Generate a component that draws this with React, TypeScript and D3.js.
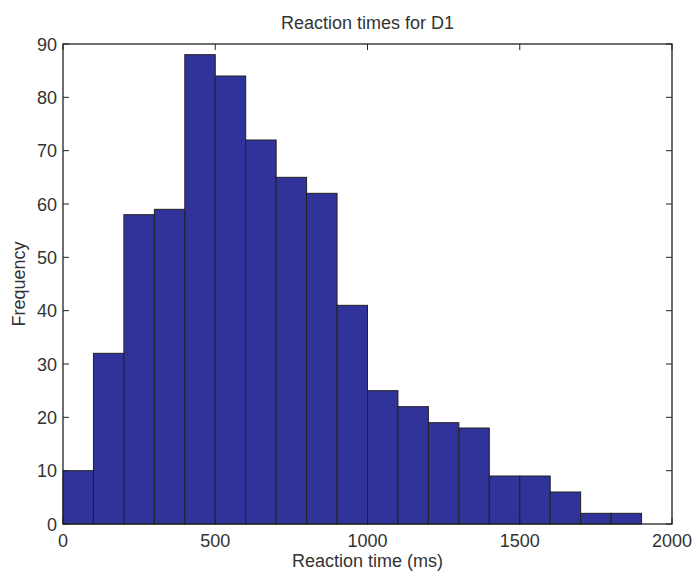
import React, { useEffect, useRef } from 'react'
import * as d3 from 'd3'

// bin edges (ms) and counts
const binStarts = [0, 100, 200, 300, 400, 500, 600, 700, 800, 900, 1000, 1100, 1200, 1300, 1400, 1500, 1600, 1700, 1800, 1900]
const counts = [10, 32, 58, 59, 88, 84, 72, 65, 62, 41, 25, 22, 19, 18, 9, 9, 6, 2, 2, 0]
const xTicks = [0, 500, 1000, 1500, 2000]
const yTicks = [0, 10, 20, 30, 40, 50, 60, 70, 80, 90]

const W = 693
const H = 572
const margin = { top: 44, right: 21, bottom: 48, left: 63 }
const font = '"Liberation Sans", Arial, sans-serif'

export default function App() {
  const ref = useRef<SVGSVGElement>(null)

  useEffect(() => {
    const svg = d3.select(ref.current)
    svg.selectAll('*').remove()

    const x = d3.scaleLinear().domain([0, 2000]).range([margin.left, W - margin.right])
    const y = d3.scaleLinear().domain([0, 90]).range([H - margin.bottom, margin.top])
    const tickLen = 6

    // bars
    svg.append('g')
      .selectAll('rect')
      .data(binStarts)
      .enter().append('rect')
      .attr('x', (d) => x(d))
      .attr('y', (d, i) => y(counts[i]))
      .attr('width', (d) => x(d + 100) - x(d))
      .attr('height', (d, i) => y(0) - y(counts[i]))
      .attr('fill', '#30339a')
      .attr('stroke', '#222')
      .attr('stroke-width', 1)

    // box
    svg.append('rect')
      .attr('x', x(0))
      .attr('y', y(90))
      .attr('width', x(2000) - x(0))
      .attr('height', y(0) - y(90))
      .attr('fill', 'none')
      .attr('stroke', '#222')
      .attr('stroke-width', 1.3)

    const ticks = svg.append('g').attr('stroke', '#222').attr('stroke-width', 1)
    xTicks.forEach((t) => {
      ticks.append('line').attr('x1', x(t)).attr('x2', x(t)).attr('y1', y(0)).attr('y2', y(0) - tickLen)
      ticks.append('line').attr('x1', x(t)).attr('x2', x(t)).attr('y1', y(90)).attr('y2', y(90) + tickLen)
    })
    yTicks.forEach((t) => {
      ticks.append('line').attr('x1', x(0)).attr('x2', x(0) + tickLen).attr('y1', y(t)).attr('y2', y(t))
      ticks.append('line').attr('x1', x(2000)).attr('x2', x(2000) - tickLen).attr('y1', y(t)).attr('y2', y(t))
    })

    const labels = svg.append('g')
      .attr('font-family', font)
      .attr('font-size', 18)
      .attr('fill', '#333')

    labels.selectAll('.xt')
      .data(xTicks)
      .enter().append('text')
      .attr('x', (d) => x(d))
      .attr('y', y(0) + 23)
      .attr('text-anchor', 'middle')
      .text((d) => d)

    labels.selectAll('.yt')
      .data(yTicks)
      .enter().append('text')
      .attr('x', x(0) - 6)
      .attr('y', (d) => y(d) + 6.5)
      .attr('text-anchor', 'end')
      .text((d) => d)

    labels.append('text')
      .attr('x', (x(0) + x(2000)) / 2)
      .attr('y', 29)
      .attr('text-anchor', 'middle')
      .text('Reaction times for D1')

    labels.append('text')
      .attr('x', (x(0) + x(2000)) / 2)
      .attr('y', H - 5)
      .attr('text-anchor', 'middle')
      .text('Reaction time (ms)')

    labels.append('text')
      .attr('transform', `translate(25, ${(y(0) + y(90)) / 2}) rotate(-90)`)
      .attr('text-anchor', 'middle')
      .text('Frequency')
  }, [])

  return <svg ref={ref} width={W} height={H} style={{ display: 'block', position: 'absolute', left: 0, top: 0 }} />
}
